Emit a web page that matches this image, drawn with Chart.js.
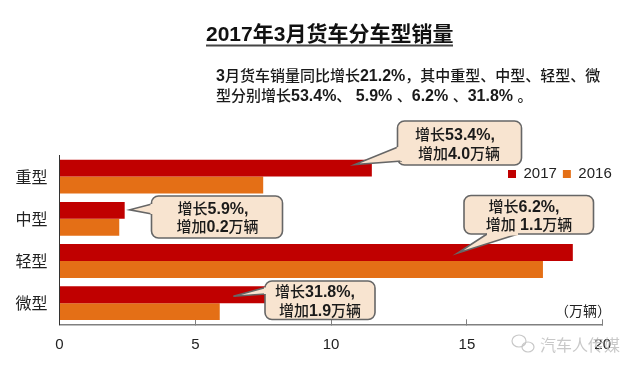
<!DOCTYPE html>
<html>
<head>
<meta charset="utf-8">
<style>
  html, body { margin: 0; padding: 0; background: #fff; }
</style>
<script src="https://cdn.jsdelivr.net/npm/chart.js@4"></script>
</head>
<body>
<canvas id="salesChart" width="640" height="373" style="display:block"></canvas>
<script>
    const categories = ['重型', '中型', '轻型', '微型'];
    const sales2017 = [11.5, 2.4, 18.9, 7.8];
    const sales2016 = [7.5, 2.2, 17.8, 5.9];

    const titleText = '2017年3月货车分车型销量';
    const summaryLines = [
        '3月货车销量同比增长21.2%，其中重型、中型、轻型、微',
        '型分别增长53.4%、 5.9% 、6.2% 、31.8% 。'
    ];
    const heavyNote = ['增长53.4%,', '增加4.0万辆'];
    const mediumNote = ['增长5.9%,', '增加0.2万辆'];
    const lightNote = ['增长6.2%,', '增加 1.1万辆'];
    const microNote = ['增长31.8%,', '增加1.9万辆'];
    const unitText = '（万辆）';
    const watermarkText = '汽车人传媒';

    const latin = '"Liberation Sans"';
    const cjk = '"Noto Sans CJK SC"';

    // latin parts are bold, chinese parts a bit lighter, same as the original slide
    function mixedRuns(ctx, text, size) {
        const runs = text.match(/[\x00-\x7f]+|[^\x00-\x7f]+/g).map(t => {
            const isLatin = /^[\x00-\x7f]/.test(t);
            const font = isLatin ? 'bold ' + (size + 1) + 'px ' + latin : '500 ' + size + 'px ' + cjk;
            ctx.font = font;
            return { t, font, w: ctx.measureText(t).width };
        });
        return runs;
    }

    function drawMixed(ctx, text, x, y, size, centered) {
        const runs = mixedRuns(ctx, text, size);
        const total = runs.reduce((s, r) => s + r.w, 0);
        let cur = centered ? x - total / 2 : x;
        ctx.textAlign = 'left';
        ctx.textBaseline = 'alphabetic';
        ctx.fillStyle = '#1a1a1a';
        runs.forEach(r => {
            ctx.font = r.font;
            ctx.fillText(r.t, cur, y + 5.5);
            cur += r.w;
        });
    }

    function drawCallout(ctx, box, tip, base1, base2) {
        const { x, y, w, h } = box;
        const r = 7;
        ctx.beginPath();
        ctx.roundRect(x, y, w, h, r);
        ctx.fillStyle = '#f8e4d0';
        ctx.strokeStyle = '#666666';
        ctx.lineWidth = 1.6;
        ctx.fill();
        ctx.stroke();
        // tail on top of the box border
        ctx.beginPath();
        ctx.moveTo(base1[0], base1[1]);
        ctx.lineTo(tip[0], tip[1]);
        ctx.lineTo(base2[0], base2[1]);
        ctx.fill();
        ctx.stroke();
        // hide the border between tail and box
        ctx.beginPath();
        ctx.moveTo(base1[0], base1[1]);
        ctx.lineTo(base2[0], base2[1]);
        ctx.strokeStyle = '#f8e4d0';
        ctx.lineWidth = 3;
        ctx.stroke();
    }

    const slideText = {
        id: 'slideText',
        // put the legend in the upper right part of the plot
        afterLayout(chart) {
            const lg = chart.legend;
            lg.left = 502;
            lg.right = 502 + lg.width;
            lg.top = 160.5;
            lg.bottom = 160.5 + lg.height;
        },
        afterDraw(chart) {
            const ctx = chart.ctx;
            const xs = chart.scales.x;
            const ys = chart.scales.y;
            ctx.save();

            // title + underline
            ctx.font = 'bold 21px ' + latin + ',' + cjk;
            ctx.fillStyle = '#111';
            ctx.textAlign = 'left';
            ctx.textBaseline = 'middle';
            ctx.fillText(titleText, 206, 35);
            ctx.fillStyle = '#444';
            ctx.fillRect(206, 44.5, 247, 2);

            drawMixed(ctx, summaryLines[0], 216, 75.5, 15, false);
            drawMixed(ctx, summaryLines[1], 216, 95, 15, false);

            // tails point at the bars, so they follow the scales
            const barY = (i, off) => ys.getPixelForValue(i) + off;
            const vx = v => xs.getPixelForValue(v);

            drawCallout(ctx, { x: 397.5, y: 121, w: 124, h: 44 },
                [vx(sales2017[0]) - 17, barY(0, -12)], [398, 147], [402, 161]);
            drawMixed(ctx, heavyNote[0], 455, 134, 15, true);
            drawMixed(ctx, heavyNote[1], 459, 153, 15, true);

            drawCallout(ctx, { x: 151.5, y: 196, w: 131, h: 42 },
                [vx(sales2017[1]) + 5, barY(1, -9)], [152, 204], [152, 214]);
            drawMixed(ctx, mediumNote[0], 213, 208, 15, true);
            drawMixed(ctx, mediumNote[1], 217.5, 226.5, 15, true);

            drawCallout(ctx, { x: 464, y: 195.5, w: 129.5, h: 38.5 },
                [vx(sales2017[2]) - 115, barY(2, -8)], [487, 234], [518, 234]);
            drawMixed(ctx, lightNote[0], 524, 206, 15, true);
            drawMixed(ctx, lightNote[1], 529, 224, 15, true);

            drawCallout(ctx, { x: 265, y: 281, w: 110, h: 38.5 },
                [vx(sales2017[3]) - 38, barY(3, -7)], [265.5, 287.5], [265.5, 294]);
            drawMixed(ctx, microNote[0], 315, 291, 15, true);
            drawMixed(ctx, microNote[1], 320, 310, 15, true);

            // unit
            ctx.font = '14px ' + cjk;
            ctx.fillStyle = '#222';
            ctx.textAlign = 'right';
            ctx.textBaseline = 'middle';
            ctx.fillText(unitText, 611, 311);

            // watermark
            ctx.strokeStyle = '#c8c8c8';
            ctx.lineWidth = 1.2;
            ctx.beginPath();
            ctx.ellipse(519, 341, 7, 6, 0, 0, Math.PI * 2);
            ctx.stroke();
            ctx.beginPath();
            ctx.ellipse(528, 347, 6, 5, 0, 0, Math.PI * 2);
            ctx.stroke();
            ctx.font = '16px ' + cjk;
            ctx.fillStyle = 'rgba(190,190,190,0.85)';
            ctx.textAlign = 'left';
            ctx.fillText(watermarkText, 540, 345);
            ctx.restore();
        }
    };

    const salesChart = new Chart(document.getElementById('salesChart').getContext('2d'), {
        type: 'bar',
        data: {
            labels: categories,
            datasets: [
                { label: '2017', data: sales2017, backgroundColor: '#c00000' },
                { label: '2016', data: sales2016, backgroundColor: '#e46f16' }
            ]
        },
        options: {
            indexAxis: 'y',
            responsive: false,
            animation: false,
            layout: { padding: { top: 124.5, right: 37.3, left: 0, bottom: 0 } },
            datasets: { bar: { categoryPercentage: 0.8, barPercentage: 1 } },
            plugins: {
                title: { display: false },
                tooltip: { enabled: false },
                legend: {
                    position: 'top',
                    align: 'start',
                    labels: {
                        boxWidth: 8,
                        boxHeight: 8,
                        padding: 6,
                        color: '#222',
                        font: { family: latin, size: 15 }
                    }
                }
            },
            scales: {
                x: {
                    min: 0,
                    max: 20,
                    afterFit(s) { s.height = 48.7; },
                    ticks: {
                        stepSize: 5,
                        padding: 17,
                        maxRotation: 0,
                        color: '#222',
                        font: { family: latin, size: 15 }
                    },
                    grid: { drawOnChartArea: false, tickLength: -5, color: '#808080' },
                    border: { color: '#808080', width: 1.5 }
                },
                y: {
                    afterFit(s) { s.width = 59.5; },
                    ticks: {
                        padding: 12,
                        color: '#222',
                        font: { family: cjk, size: 16 }
                    },
                    grid: { display: false, drawTicks: false },
                    border: { color: '#333', width: 1 }
                }
            }
        },
        plugins: [slideText]
    });
</script>
</body>
</html>
